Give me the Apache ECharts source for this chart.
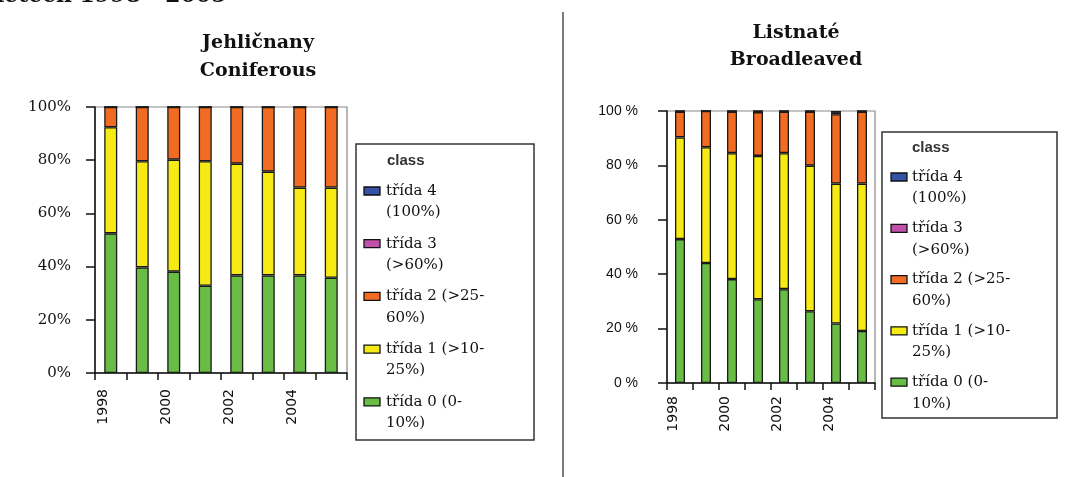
<!DOCTYPE html>
<html>
<head>
<meta charset="utf-8">
<script src="https://cdn.jsdelivr.net/npm/echarts@6/dist/echarts.min.js"></script>
<style>
html,body{margin:0;padding:0;background:#fff;}
#chart{width:1068px;height:477px;}
</style>
</head>
<body>
<div id="chart"></div>
<script>
// ---- data ----
const years = ['1998', '1999', '2000', '2001', '2002', '2003', '2004', '2005'];
const yTicks = [0, 20, 40, 60, 80, 100];
const classNames = ['třída 0 (0-10%)', 'třída 1 (>10-25%)', 'třída 2 (>25-60%)', 'třída 3 (>60%)', 'třída 4 (100%)'];
const legendLabels = ['třída 4\n(100%)', 'třída 3\n(>60%)', 'třída 2 (>25-\n60%)', 'třída 1 (>10-\n25%)', 'třída 0 (0-\n10%)'];
const legendHeader = 'class';
const titleConiferous = ['Jehličnany', 'Coniferous'];
const titleBroadleaved = ['Listnaté', 'Broadleaved'];
const pageHeading = 'letech 1998 - 2005';

// Jehličnany / Coniferous (% share of each class)
const con0 = [52.5, 39.7, 38.1, 32.8, 36.7, 36.7, 36.7, 35.8];
const con1 = [39.9, 39.9, 42.1, 46.8, 42.0, 39.0, 33.0, 33.9];
const con2 = [7.6, 20.4, 19.8, 20.4, 21.3, 24.3, 30.3, 30.3];
const con3 = [0, 0, 0, 0, 0, 0, 0, 0];
const con4 = [0, 0, 0, 0, 0, 0, 0, 0];

// Listnaté / Broadleaved
const bro0 = [52.9, 44.1, 38.2, 30.8, 34.5, 26.4, 21.9, 19.1];
const bro1 = [37.4, 42.6, 46.3, 52.7, 50.0, 53.5, 51.4, 54.2];
const bro2 = [9.4, 13.3, 15.2, 16.1, 15.2, 19.8, 25.5, 26.4];
const bro3 = [0.3, 0, 0.3, 0.4, 0.3, 0.3, 0.5, 0.3];
const bro4 = [0, 0, 0, 0, 0, 0, 0.7, 0];

const classColors = ['#69bd45', '#f6ea14', '#f26b22', '#c150a8', '#3452a6'];

// ---- chart ----
const chart = echarts.init(document.getElementById('chart'), null, {renderer: 'canvas'});

const axisBlack = '#111';
function makeSeries(sets, axisIdx, stack, bw) {
  return sets.map((d, i) => ({
    name: classNames[i],
    type: 'bar',
    stack: stack,
    xAxisIndex: axisIdx,
    yAxisIndex: axisIdx,
    data: d,
    barWidth: bw,
    itemStyle: {color: classColors[i], borderColor: '#1a1a1a', borderWidth: 1.3},
    emphasis: {disabled: true}
  }));
}

function xAxisCfg(gi, margin) {
  return {
    type: 'category', gridIndex: gi, data: years,
    axisLine: {lineStyle: {color: axisBlack, width: 1.5}},
    axisTick: {show: true, interval: 0, length: 7, lineStyle: {color: axisBlack, width: 1.5}},
    axisLabel: {
      interval: 1, rotate: 90, margin: margin, verticalAlign: 'bottom',
      fontFamily: 'DejaVu Sans', fontSize: 14, color: '#111'
    }
  };
}
function yAxisCfg(gi, fmt, fam, size, margin) {
  return {
    type: 'value', gridIndex: gi, min: 0, max: 100, interval: 20,
    axisLine: {show: true, lineStyle: {color: axisBlack, width: 1.5}},
    axisTick: {show: true, length: 9, lineStyle: {color: axisBlack, width: 1.5}},
    splitLine: {show: false},
    axisLabel: {formatter: fmt, fontFamily: fam, fontSize: size, color: '#111', margin: margin}
  };
}

// legend drawn as graphic block
function legendBlock(box, header, swX, textX, firstY, step, lineH) {
  const els = [{
    type: 'rect', shape: {x: box.x, y: box.y, width: box.w, height: box.h},
    style: {fill: '#fff', stroke: '#333', lineWidth: 1.5}
  }, {
    type: 'text', style: {x: header.x, y: header.y, text: legendHeader, fill: '#333',
      font: 'bold 15px "Liberation Sans"', verticalAlign: 'middle'}
  }];
  legendLabels.forEach((lab, k) => {
    const ci = classColors.length - 1 - k;
    const cy = firstY + k * step;
    els.push({type: 'rect', shape: {x: swX, y: cy - 4, width: 16, height: 8},
      style: {fill: classColors[ci], stroke: '#111', lineWidth: 1.3}});
    els.push({type: 'text', style: {x: textX, y: cy - lineH / 2, text: lab, fill: '#111',
      font: '15px "DejaVu Serif"', lineHeight: lineH, verticalAlign: 'top'}});
  });
  return els;
}

function titleBlock(cx, y1, y2, lines) {
  return lines.map((t, i) => ({
    type: 'text', style: {x: cx, y: i === 0 ? y1 : y2, text: t, fill: '#111',
      font: 'bold 19px "DejaVu Serif"', align: 'center', verticalAlign: 'middle'}
  }));
}

const graphics = [].concat(
  [{type: 'text', style: {x: -4, y: 7, text: pageHeading, fill: '#111',
     font: 'bold 22px "DejaVu Serif"', verticalAlign: 'bottom'}}],
  [{type: 'line', shape: {x1: 563, y1: 12, x2: 563, y2: 477}, style: {stroke: '#333', lineWidth: 1.3}}],
  titleBlock(258, 43, 71, titleConiferous),
  titleBlock(796, 33, 60, titleBroadleaved),
  legendBlock({x: 356, y: 144, w: 178, h: 296}, {x: 387, y: 161}, 364, 386, 191, 52.7, 21.5),
  legendBlock({x: 882, y: 132, w: 175, h: 286}, {x: 912, y: 148}, 891, 912, 177, 51.3, 21.5)
);

const option = {
  animation: false,
  backgroundColor: '#fff',
  grid: [
    {left: 95, top: 107, width: 252, height: 266, show: true, borderColor: '#888', borderWidth: 1.2, backgroundColor: 'transparent'},
    {left: 667, top: 111, width: 208, height: 272, show: true, borderColor: '#888', borderWidth: 1.2, backgroundColor: 'transparent'}
  ],
  xAxis: [xAxisCfg(0, 16), xAxisCfg(1, 13)],
  yAxis: [
    yAxisCfg(0, '{value}%', 'DejaVu Serif', 15, 24),
    yAxisCfg(1, '{value} %', 'Liberation Sans', 14, 29)
  ],
  series: [].concat(
    makeSeries([con0, con1, con2, con3, con4], 0, 'con', 13),
    makeSeries([bro0, bro1, bro2, bro3, bro4], 1, 'bro', 10)
  ),
  graphic: graphics
};
chart.setOption(option);
</script>
</body>
</html>
